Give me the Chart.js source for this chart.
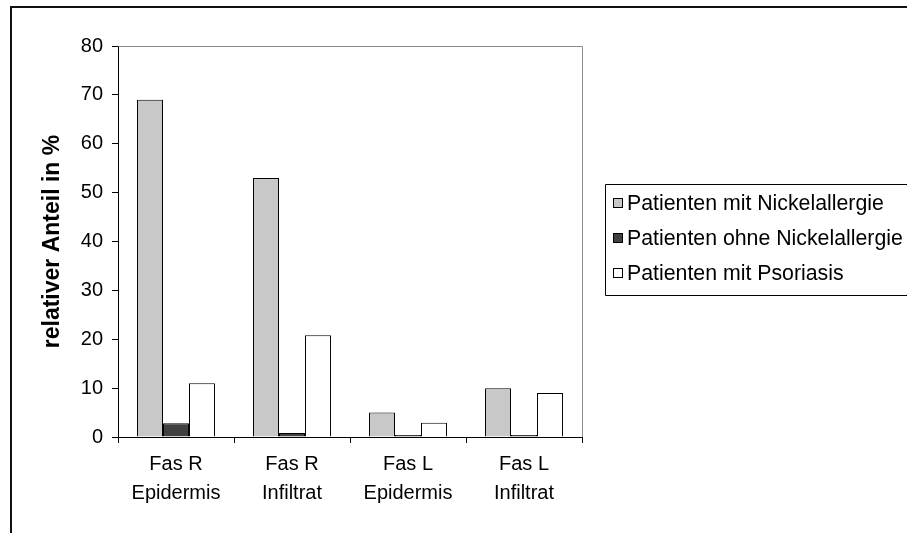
<!DOCTYPE html>
<html>
<head>
<meta charset="utf-8">
<title>Fas R / Fas L</title>
<script src="https://cdn.jsdelivr.net/npm/chart.js@4/dist/chart.umd.min.js"></script>
<style>
  html, body { margin: 0; padding: 0; background: #fff; }
  #wrap { width: 907px; height: 533px; }
  canvas { display: block; }
</style>
</head>
<body>
<div id="wrap"><canvas id="c" width="907" height="533"></canvas></div>
<script>
// Categories (two-line labels) and series values in percent
const categories = [
  ['Fas R', 'Epidermis'],
  ['Fas R', 'Infiltrat'],
  ['Fas L', 'Epidermis'],
  ['Fas L', 'Infiltrat']
];
const seriesNames = [
  'Patienten mit Nickelallergie',
  'Patienten ohne Nickelallergie',
  'Patienten mit Psoriasis'
];
const withNickelAllergy = [69, 53, 5, 10];
const withoutNickelAllergy = [2.8, 0.8, 0.4, 0.4];
const withPsoriasis = [11, 20.8, 2.9, 9];
const seriesColors = ['#c8c8c8', '#404040', '#ffffff'];

const FONT = "'Liberation Sans', Arial, sans-serif";

// White background, outer frame, plot area border and the boxed legend
const framePlugin = {
  id: 'frame',
  beforeDraw(chart) {
    const ctx = chart.ctx;
    ctx.save();
    ctx.fillStyle = '#ffffff';
    ctx.fillRect(0, 0, chart.width, chart.height);
    ctx.restore();
  },
  afterDraw(chart) {
    const ctx = chart.ctx;
    const a = chart.chartArea;
    ctx.save();

    // plot area: grey top and right edges
    ctx.strokeStyle = '#8c8c8c';
    ctx.lineWidth = 1;
    ctx.beginPath();
    ctx.moveTo(Math.round(a.left) + 0.5, Math.round(a.top) + 0.5);
    ctx.lineTo(Math.round(a.right) + 0.5, Math.round(a.top) + 0.5);
    ctx.lineTo(Math.round(a.right) + 0.5, Math.round(a.bottom));
    ctx.stroke();

    // outer frame
    ctx.strokeStyle = '#111111';
    ctx.lineWidth = 2;
    ctx.beginPath();
    ctx.moveTo(11, chart.height + 5);
    ctx.lineTo(11, 7);
    ctx.lineTo(chart.width + 5, 7);
    ctx.stroke();

    // legend box
    const lx = 605.5, ly = 184.5, lb = 295.5;
    ctx.strokeStyle = '#000000';
    ctx.lineWidth = 1;
    ctx.beginPath();
    ctx.moveTo(chart.width + 5, ly);
    ctx.lineTo(lx, ly);
    ctx.lineTo(lx, lb);
    ctx.lineTo(chart.width + 5, lb);
    ctx.stroke();

    // legend entries
    ctx.font = '21.3px ' + FONT;
    ctx.textBaseline = 'alphabetic';
    ctx.textAlign = 'left';
    chart.data.datasets.forEach((ds, i) => {
      const base = 210 + i * 35;
      ctx.fillStyle = ds.backgroundColor;
      ctx.fillRect(613, base - 12, 10, 10);
      ctx.strokeStyle = '#000000';
      ctx.strokeRect(613.5, base - 11.5, 9, 9);
      ctx.fillStyle = '#000000';
      ctx.fillText(ds.label, 627, base);
    });
    ctx.restore();
  }
};

const datasets = [withNickelAllergy, withoutNickelAllergy, withPsoriasis].map((values, i) => ({
  label: seriesNames[i],
  data: values,
  backgroundColor: seriesColors[i],
  borderColor: '#000000',
  borderWidth: 1,
  borderSkipped: 'bottom',
  categoryPercentage: 0.672,
  barPercentage: 1
}));

new Chart(document.getElementById('c'), {
  type: 'bar',
  data: { labels: categories, datasets },
  plugins: [framePlugin],
  options: {
    responsive: false,
    animation: false,
    devicePixelRatio: 1,
    layout: { padding: { left: 0, top: 46, right: 325, bottom: 0 } },
    plugins: {
      legend: { display: false },
      tooltip: { enabled: false }
    },
    scales: {
      x: {
        grid: {
          offset: true,
          drawOnChartArea: false,
          tickLength: 6,
          color: '#000000',
          lineWidth: 1
        },
        border: { color: '#000000', width: 1 },
        ticks: {
          color: '#000000',
          font: { family: FONT, size: 20, lineHeight: 1.45 },
          padding: 7,
          maxRotation: 0,
          autoSkip: false
        },
        afterFit(scale) { scale.height = 96; }
      },
      y: {
        min: 0,
        max: 80,
        grid: {
          drawOnChartArea: false,
          tickLength: 6,
          color: '#000000',
          lineWidth: 1
        },
        border: { color: '#000000', width: 1 },
        ticks: {
          stepSize: 10,
          color: '#000000',
          font: { family: FONT, size: 20 },
          padding: 9
        },
        title: {
          display: true,
          text: 'relativer Anteil in %',
          color: '#000000',
          font: { family: FONT, size: 23, weight: 'bold' },
          padding: { top: 39, bottom: 0 }
        },
        afterFit(scale) { scale.width = 118; }
      }
    }
  }
});
</script>
</body>
</html>
